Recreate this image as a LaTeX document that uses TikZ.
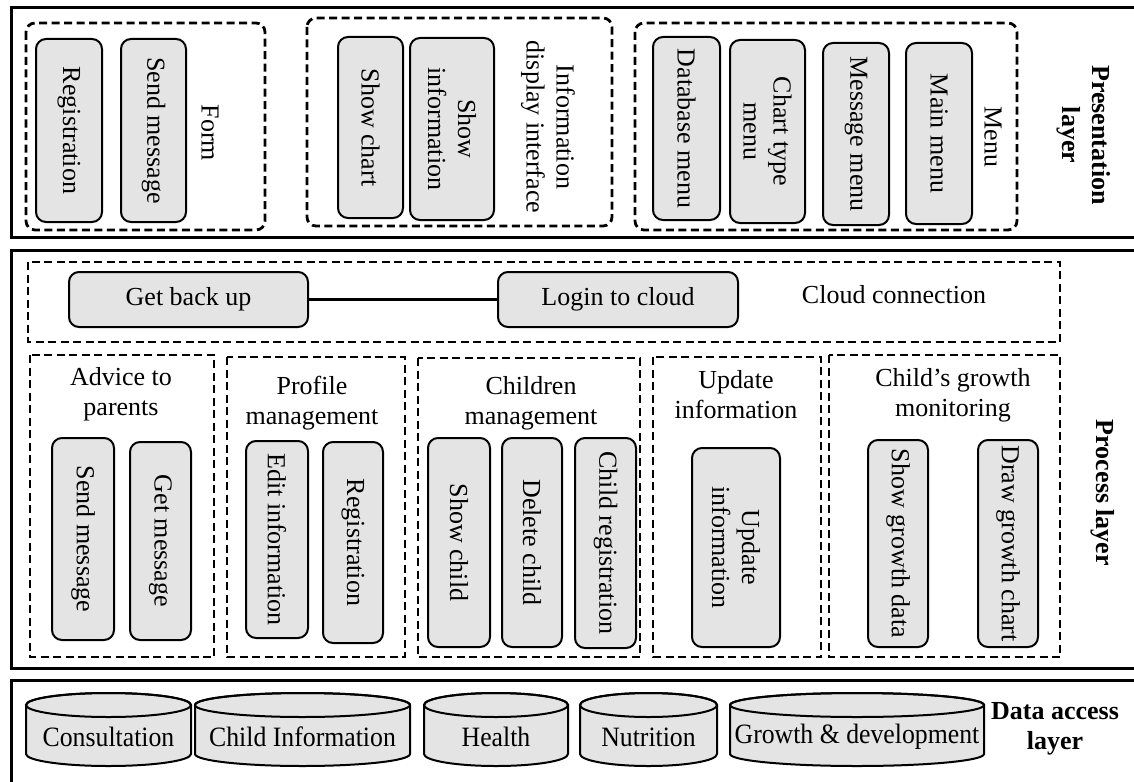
\documentclass[tikz,border=0pt]{standalone}
\usepackage{fontspec}
\setmainfont{Liberation Serif}
\definecolor{boxgray}{RGB}{228,228,228}

% database cylinder: name, left x, right x, label
\newcommand\dbcyl[4]{%
  \pgfmathsetmacro\cylx{(#2+#3)/2}%
  \pgfmathsetmacro\cylr{(#3-#2)/2}%
  \filldraw[cyl] (#2,705) -- (#2,754)
    arc[start angle=180,end angle=360,x radius=\cylr pt,y radius=12pt]
    -- (#3,705)
    arc[start angle=0,end angle=180,x radius=\cylr pt,y radius=12pt] -- cycle;
  \draw[cyl,fill=none] (\cylx,705) ellipse[x radius=\cylr pt,y radius=12pt];
  \node[dblabel] (#1) at (\cylx,737) {\scalebox{0.92}[1]{#4}};
}

\begin{document}
\begin{tikzpicture}[x=1pt,y=-1pt,
  every node/.style={font=\fontsize{26}{30}\selectfont, inner sep=0pt},
  frame/.style={draw, line width=3pt},
  group/.style={draw, line width=2.8pt, dash pattern=on 8pt off 4.5pt},
  rgroup/.style={group, rounded corners=9pt},
  item/.style={draw, line width=2pt, fill=boxgray, rounded corners=10pt, align=center},
  vitem/.style={item, rotate=-90},
  vlabel/.style={rotate=-90, align=center},
  hlabel/.style={align=center},
  layer/.style={font=\fontsize{26}{30}\selectfont\bfseries, align=center},
  dblabel/.style={font=\fontsize{28}{30}\selectfont},
  cyl/.style={line width=2pt, fill=boxgray},
  link/.style={line width=2.5pt}
]
\useasboundingbox (0,0) rectangle (1134,781);
\clip (0,0) rectangle (1134,781);

% ---------------- presentation layer ----------------
\draw[frame] (11,8) rectangle (1150,237);

\draw[rgroup] (26,23) rectangle (265,230);
\node[vitem, minimum width=183pt, minimum height=66pt] (pReg) at (69,130.5) {Registration};
\node[vitem, minimum width=183pt, minimum height=65pt] (pSend) at (153.5,130.5) {Send message};
\node[vlabel] (lForm) at (210,133) {Form};

\draw[rgroup] (307,18) rectangle (612,226);
\node[vitem, minimum width=181pt, minimum height=65pt] (pChart) at (370.5,127.5) {Show chart};
\node[vitem, minimum width=182pt, minimum height=84pt] (pInfo) at (452,129) {Show\\information};
\node[vlabel] (lInfo) at (548,127) {Information\\display interface};

\draw[rgroup] (635,23) rectangle (1017,230);
\node[vitem, minimum width=183pt, minimum height=67pt] (mDb) at (686.5,128.5) {Database menu};
\node[vitem, minimum width=183pt, minimum height=75pt] (mChart) at (767.5,131.5) {Chart type\\menu};
\node[vitem, minimum width=182pt, minimum height=66pt] (mMsg) at (856,134) {Message menu};
\node[vitem, minimum width=181pt, minimum height=66pt] (mMain) at (939,133.5) {Main menu};
\node[vlabel] (lMenu) at (993,137) {Menu};

\node[layer, rotate=-90] (lPres) at (1084,135) {Presentation\\layer};

% ---------------- process layer ----------------
\draw[frame] (11,250) rectangle (1150,668);

\draw[group] (28,262) rectangle (1060,342);
\node[item, minimum width=239pt, minimum height=55pt] (cBack) at (188.5,299.5) {Get back up};
\node[item, minimum width=240pt, minimum height=55pt] (cLogin) at (618,299.5) {Login to cloud};
\draw[link] (cBack) -- (cLogin);
\node (lCloud) at (894,295) {Cloud connection};

\draw[group] (30,355) rectangle (214,657);
\node[hlabel] (lAdvice) at (121,394) {Advice to\\parents};
\node[vitem, minimum width=202pt, minimum height=62pt] (aSend) at (83,539) {Send message};
\node[vitem, minimum width=198pt, minimum height=61pt] (aGet) at (160.5,541) {Get message};

\draw[group] (227,357) rectangle (405,657);
\node[hlabel] (lProfile) at (312,403) {Profile\\management};
\node[vitem, minimum width=197pt, minimum height=62pt] (fEdit) at (277,539.5) {Edit information};
\node[vitem, minimum width=201pt, minimum height=60pt] (fReg) at (353,542.5) {Registration};

\draw[group] (418,358) rectangle (640,657);
\node[hlabel] (lChildren) at (531,403) {Children\\management};
\node[vitem, minimum width=209pt, minimum height=62pt] (kShow) at (459,542.5) {Show child};
\node[vitem, minimum width=209pt, minimum height=60pt] (kDel) at (532,542.5) {Delete child};
\node[vitem, minimum width=210pt, minimum height=61pt] (kReg) at (605.5,543) {Child registration};

\draw[group] (653,357) rectangle (821,657);
\node[hlabel] (lUpdate) at (736,395) {Update\\information};
\node[vitem, minimum width=199pt, minimum height=88pt] (uInfo) at (736,547.5) {Update\\information};

\draw[group] (829,355) rectangle (1060,657);
\node[hlabel] (lGrowth) at (953,395) {Child’s growth\\monitoring};
\node[vitem, minimum width=207pt, minimum height=60pt] (gShow) at (898,543.5) {Show growth data};
\node[vitem, minimum width=207pt, minimum height=60pt] (gDraw) at (1008,543.5) {Draw growth chart};

\node[layer, rotate=-90] (lProc) at (1103,493) {Process layer};

% ---------------- data access layer ----------------
\draw[frame] (11,680) rectangle (1150,800);

\dbcyl{dConsult}{26}{191}{Consultation}
\dbcyl{dChild}{195}{410}{Child Information}
\dbcyl{dHealth}{424}{568}{Health}
\dbcyl{dNutri}{580}{717}{Nutrition}
\dbcyl{dGrowth}{730}{984}{Growth \& development}

\node[layer] (lData) at (1055,728.5) {Data access\\layer};
\end{tikzpicture}
\end{document}
